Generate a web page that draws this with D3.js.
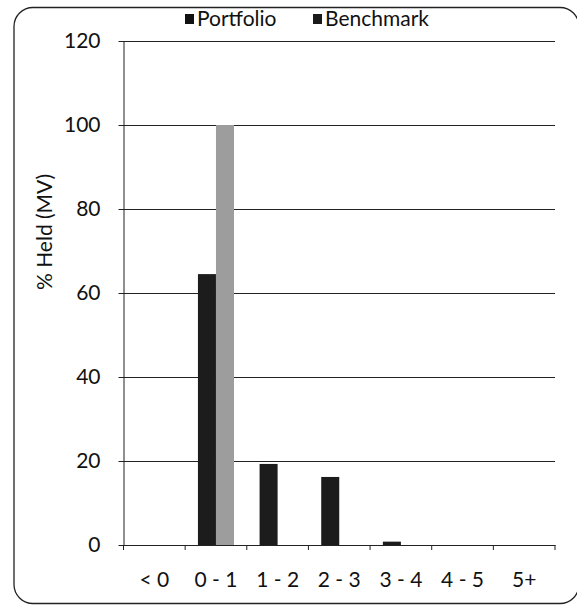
<!DOCTYPE html>
<html>
<head>
<meta charset="utf-8">
<script src="https://cdn.jsdelivr.net/npm/d3@7"></script>
<style>
  html, body { margin: 0; padding: 0; background: #fff; overflow: hidden; }
  svg { display: block; }
  text { font-family: Lato, "Open Sans", "Liberation Sans", sans-serif; fill: #111; }
</style>
</head>
<body>
<svg id="chart" width="577" height="605"></svg>
<script>
// Duration buckets and holdings (% of market value)
const categories = ["< 0", "0 - 1", "1 - 2", "2 - 3", "3 - 4", "4 - 5", "5+"];
const seriesNames = ["Portfolio", "Benchmark"];
const portfolio = [0, 64.5, 19.3, 16.2, 0.8, 0, 0];
const benchmark = [0, 100, 0, 0, 0, 0, 0];
const yTicks = [0, 20, 40, 60, 80, 100, 120];

const colors = { Portfolio: "#1c1c1c", Benchmark: "#9d9d9d" };
const legendColors = { Portfolio: "#111", Benchmark: "#1a1a1a" };

const svg = d3.select("#chart");
const margin = { left: 123.5, right: 22, top: 41, bottom: 60 };
const W = 577, H = 605;
const fontSize = "21px";

// Outer rounded frame (right edge runs past the canvas)
svg.append("rect")
  .attr("x", 14).attr("y", 7.5)
  .attr("width", 565).attr("height", 596)
  .attr("rx", 19).attr("ry", 19)
  .attr("fill", "none").attr("stroke", "#222").attr("stroke-width", 1.3);

const x = d3.scaleBand().domain(categories)
  .range([margin.left, W - margin.right]).paddingInner(0).paddingOuter(0);
const x1 = d3.scaleBand().domain(seriesNames)
  .range([0, x.bandwidth()]).paddingInner(0).paddingOuter(0.71);
const y = d3.scaleLinear().domain([0, 120]).range([H - margin.bottom, margin.top]);

// Horizontal gridlines
svg.append("g").selectAll("line").data(yTicks.filter(d => d > 0)).join("line")
  .attr("x1", margin.left).attr("x2", W - margin.right)
  .attr("y1", d => Math.round(y(d)) + 0.5).attr("y2", d => Math.round(y(d)) + 0.5)
  .attr("stroke", "#222").attr("stroke-width", 1);

// Bars
const rows = categories.map((c, i) => ({ c, Portfolio: portfolio[i], Benchmark: benchmark[i] }));
svg.append("g").selectAll("g").data(rows).join("g")
  .attr("transform", d => `translate(${x(d.c)},0)`)
  .selectAll("rect")
  .data(d => seriesNames.map(k => ({ k, v: d[k] })).filter(e => e.v > 0))
  .join("rect")
  .attr("x", d => x1(d.k))
  .attr("width", x1.bandwidth())
  .attr("y", d => y(d.v))
  .attr("height", d => y(0) - y(d.v))
  .attr("fill", d => colors[d.k]);

// Y axis
const yAxis = d3.axisLeft(y).tickValues(yTicks).tickSize(0).tickPadding(23);
const gy = svg.append("g").attr("transform", `translate(${margin.left},0)`).call(yAxis);
gy.select(".domain").attr("stroke", "#222");
gy.selectAll("text").style("font-size", fontSize).attr("fill", "#111");
gy.selectAll(".tick").append("line")
  .attr("x1", -5).attr("x2", 2).attr("stroke", "#222");

// X axis
const xAxis = d3.axisBottom(x).tickSize(0).tickPadding(27);
const gx = svg.append("g").attr("transform", `translate(0,${y(0)})`).call(xAxis);
gx.select(".domain").attr("stroke", "#222");
gx.selectAll("text").style("font-size", fontSize).attr("fill", "#111");
const edges = categories.map(c => x(c)).concat([W - margin.right]);
gx.append("g").selectAll("line").data(edges).join("line")
  .attr("x1", d => d).attr("x2", d => d).attr("y1", 0).attr("y2", 5)
  .attr("stroke", "#222");

// Y axis title
svg.append("text")
  .attr("transform", `translate(52,232) rotate(-90)`)
  .attr("text-anchor", "middle")
  .style("font-size", fontSize)
  .text("% Held (MV)");

// Legend
const legend = svg.append("g");
const legendX = [185, 313];
seriesNames.forEach((name, i) => {
  const g = legend.append("g").attr("transform", `translate(${legendX[i]},13)`);
  g.append("rect").attr("width", 9).attr("height", 10).attr("y", 1).attr("fill", legendColors[name]);
  g.append("text").attr("x", 12).attr("y", 13).style("font-size", fontSize).text(name);
});
</script>
</body>
</html>
